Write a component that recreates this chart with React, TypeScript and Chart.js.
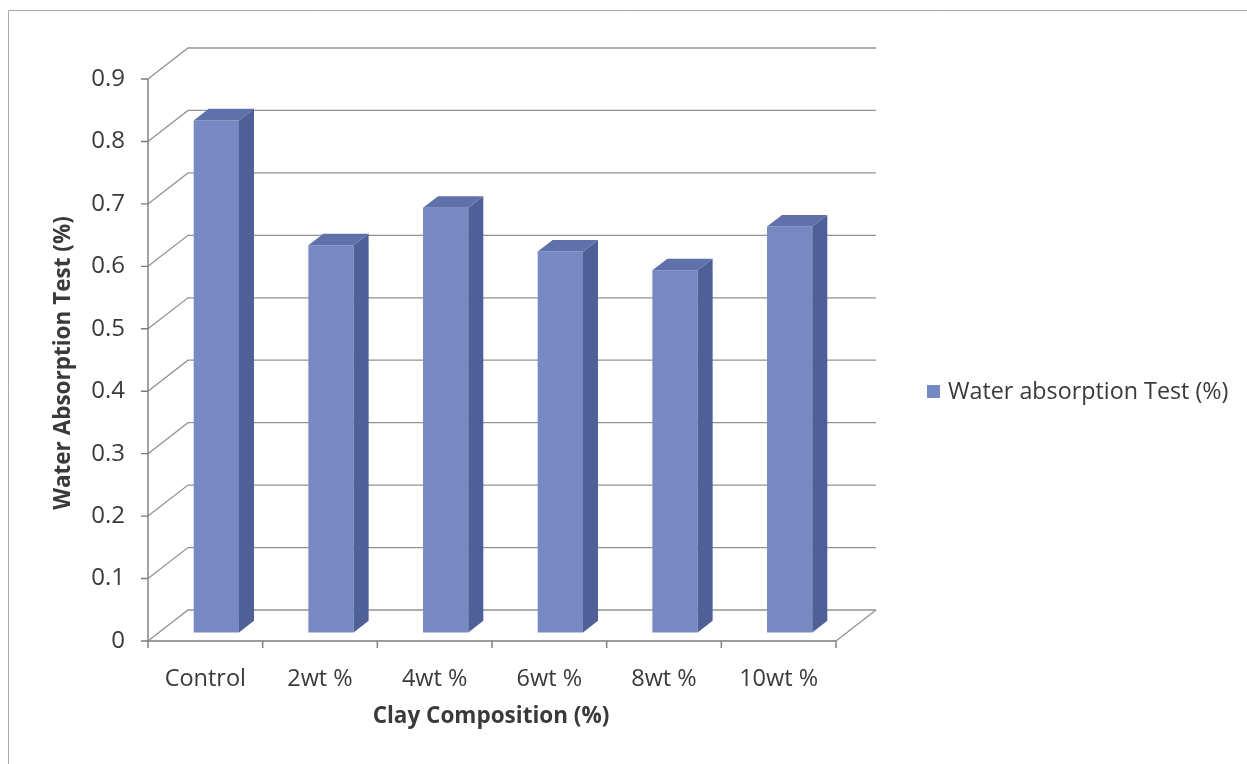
import { useEffect, useRef } from "react";
import { Chart, registerables } from "chart.js";

Chart.register(...registerables);

// Data
const categories = ["Control", "2wt %", "4wt %", "6wt %", "8wt %", "10wt %"];
const absorption = [0.82, 0.62, 0.68, 0.61, 0.58, 0.65];
const yTickValues = [0, 0.1, 0.2, 0.3, 0.4, 0.5, 0.6, 0.7, 0.8, 0.9];
const seriesLabel = "Water absorption Test (%)";
const yTitle = "Water Absorption Test (%)";
const xTitle = "Clay Composition (%)";

// Styling
const FONT = "'Open Sans', 'Noto Sans', sans-serif";
const TEXT = "#3a3a3a";
const GRID = "#929292";
const AXIS = "#7c7c7c";
const FACE_FRONT = "#7689c2";
const FACE_SIDE = "#4e6097";
const FACE_TOP = "#5e71aa";

// Pseudo-3D depth of the plot box, and the depth band the bars occupy
const DEPTH_X = 40;
const DEPTH_Y = -31;
const BAR_FRONT = 0.275;
const BAR_BACK = 0.65;

const box3d = {
  id: "box3d",
  beforeDatasetsDraw(chart: any) {
    const { ctx, chartArea: a, scales } = chart;
    const y = scales.y;
    ctx.save();
    ctx.strokeStyle = GRID;
    ctx.lineWidth = 1.3;
    // back wall grid lines with their side-wall diagonals
    for (const v of yTickValues) {
      const py = y.getPixelForValue(v);
      ctx.beginPath();
      ctx.moveTo(a.left, py);
      ctx.lineTo(a.left + DEPTH_X, py + DEPTH_Y);
      ctx.lineTo(a.right + DEPTH_X, py + DEPTH_Y);
      ctx.stroke();
    }
    // floor right edge
    ctx.beginPath();
    ctx.moveTo(a.right, a.bottom);
    ctx.lineTo(a.right + DEPTH_X, a.bottom + DEPTH_Y);
    ctx.stroke();

    // front axes with tick marks
    ctx.strokeStyle = AXIS;
    ctx.lineWidth = 1.4;
    ctx.beginPath();
    ctx.moveTo(a.left, a.top);
    ctx.lineTo(a.left, a.bottom + 7);
    ctx.moveTo(a.left, a.bottom);
    ctx.lineTo(a.right, a.bottom);
    for (const v of yTickValues) {
      const py = y.getPixelForValue(v);
      ctx.moveTo(a.left - 7, py);
      ctx.lineTo(a.left, py);
    }
    const step = (a.right - a.left) / categories.length;
    for (let i = 1; i <= categories.length; i++) {
      const px = a.left + step * i;
      ctx.moveTo(px, a.bottom);
      ctx.lineTo(px, a.bottom + 7);
    }
    ctx.stroke();
    ctx.restore();

    // bars are drawn a little way into the box
    ctx.save();
    ctx.translate(DEPTH_X * BAR_FRONT, DEPTH_Y * BAR_FRONT);
  },
  afterDatasetsDraw(chart: any) {
    const { ctx } = chart;
    const dx = DEPTH_X * (BAR_BACK - BAR_FRONT);
    const dy = DEPTH_Y * (BAR_BACK - BAR_FRONT);
    const meta = chart.getDatasetMeta(0);
    for (const el of meta.data) {
      const { x, y, base, width } = el.getProps(["x", "y", "base", "width"], true);
      const l = x - width / 2;
      const r = x + width / 2;
      // side face
      ctx.fillStyle = FACE_SIDE;
      ctx.beginPath();
      ctx.moveTo(r, y);
      ctx.lineTo(r + dx, y + dy);
      ctx.lineTo(r + dx, base + dy);
      ctx.lineTo(r, base);
      ctx.closePath();
      ctx.fill();
      // top face
      ctx.fillStyle = FACE_TOP;
      ctx.beginPath();
      ctx.moveTo(l, y);
      ctx.lineTo(l + dx, y + dy);
      ctx.lineTo(r + dx, y + dy);
      ctx.lineTo(r, y);
      ctx.closePath();
      ctx.fill();
    }
    ctx.restore();
  },
  afterDraw(chart: any) {
    const { ctx, chartArea: a } = chart;
    ctx.save();
    // outer frame
    ctx.strokeStyle = "#a8a8a8";
    ctx.lineWidth = 1;
    ctx.beginPath();
    ctx.moveTo(8.5, 764);
    ctx.lineTo(8.5, 10.5);
    ctx.lineTo(1247, 10.5);
    ctx.stroke();

    // axis titles
    ctx.fillStyle = TEXT;
    ctx.font = `bold 22.5px ${FONT}`;
    ctx.textAlign = "center";
    ctx.textBaseline = "middle";
    ctx.fillText(xTitle, 491, 717);
    ctx.save();
    ctx.translate(64, 363);
    ctx.rotate(-Math.PI / 2);
    ctx.fillText(yTitle, 0, 0);
    ctx.restore();

    // legend
    ctx.fillStyle = FACE_FRONT;
    ctx.fillRect(927, 385, 13, 13);
    ctx.fillStyle = TEXT;
    ctx.font = `23.3px ${FONT}`;
    ctx.textAlign = "left";
    ctx.fillText(seriesLabel, 948, 392);
    ctx.restore();
  },
};

export default function App() {
  const canvasRef = useRef<HTMLCanvasElement>(null);

  useEffect(() => {
    const canvas = canvasRef.current;
    if (!canvas) return;
    const chart = new Chart(canvas, {
      type: "bar",
      data: {
        labels: categories,
        datasets: [
          {
            label: seriesLabel,
            data: absorption,
            backgroundColor: FACE_FRONT,
            borderWidth: 0,
            barPercentage: 0.395,
            categoryPercentage: 1,
            clip: false as any,
          },
        ],
      },
      options: {
        responsive: false,
        animation: false,
        layout: { padding: { left: 0, top: 79, right: 1247 - 836, bottom: 0 } },
        plugins: {
          legend: { display: false },
          tooltip: { enabled: false },
        },
        scales: {
          x: {
            grid: { display: false, drawTicks: false },
            border: { display: false },
            ticks: {
              color: TEXT,
              font: { family: FONT, size: 23.5 },
              padding: 24,
              maxRotation: 0,
            },
            afterFit: (s: any) => {
              s.height = 764 - 641;
            },
          },
          y: {
            min: 0,
            max: 0.9,
            grid: { display: false, drawTicks: false },
            border: { display: false },
            ticks: {
              stepSize: 0.1,
              color: TEXT,
              font: { family: FONT, size: 24 },
              padding: 23,
            },
            afterFit: (s: any) => {
              s.width = 148;
            },
          },
        },
      },
      plugins: [box3d],
    });
    return () => chart.destroy();
  }, []);

  return (
    <div style={{ position: "fixed", left: 0, top: 0, width: 1247, height: 764, background: "#fff" }}>
      <canvas ref={canvasRef} width={1247} height={764} />
    </div>
  );
}
